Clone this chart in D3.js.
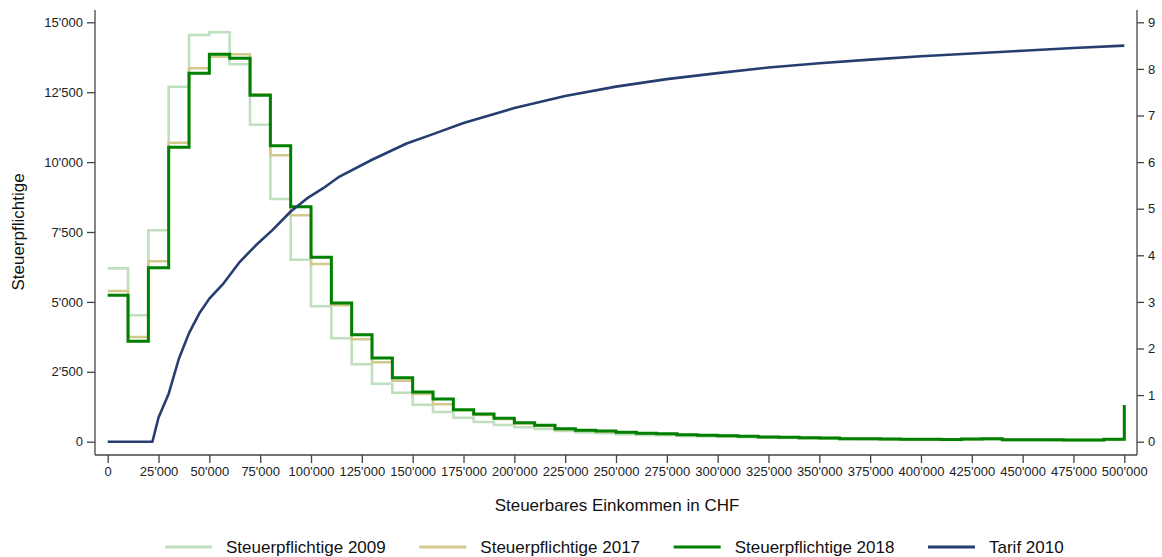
<!DOCTYPE html>
<html>
<head>
<meta charset="utf-8">
<script src="https://cdn.jsdelivr.net/npm/d3@7"></script>
<style>
  body { margin: 0; background: #fff; }
  svg { display: block; font-family: Arial, "Liberation Sans", sans-serif; }
  .axis text { fill: #222; font-size: 13px; }
  .axis path, .axis line { stroke: #444; stroke-width: 1.3px; }
</style>
</head>
<body>
<div id="chart"></div>
<script>
// income bins of 10'000 CHF, last point = open class above 500'000
const bins = d3.range(0, 510000, 10000);

const steuer2009 = [6200, 4520, 7560, 12697, 14546, 14642, 13498, 11338, 8680, 6509,
  4842, 3698, 2768, 2074, 1753, 1323, 1062, 858, 705, 597,
  515, 454, 383, 330, 300, 270, 245, 232, 205, 190,
  178, 160, 140, 130, 120, 108, 88, 86, 78, 70,
  70, 66, 78, 86, 58, 58, 55, 52, 50, 75, 1000];

const steuer2017 = [5390, 3745, 6452, 10694, 13355, 13770, 13855, 12425, 10243, 8097,
  6356, 4878, 3662, 2840, 2182, 1706, 1337, 1123, 955, 812,
  650, 562, 436, 395, 370, 325, 290, 275, 242, 222,
  208, 186, 162, 152, 138, 127, 104, 102, 93, 83,
  82, 77, 92, 102, 69, 69, 65, 62, 59, 86, 1250];

const steuer2018 = [5236, 3590, 6223, 10530, 13176, 13855, 13712, 12389, 10587, 8405,
  6595, 4961, 3827, 2994, 2289, 1778, 1527, 1145, 990, 837,
  680, 587, 465, 410, 383, 336, 300, 286, 250, 229,
  215, 193, 168, 157, 143, 132, 107, 107, 97, 86,
  86, 80, 97, 107, 72, 72, 68, 65, 62, 90, 1313];

// average tax rate (right axis)
const tarifEinkommen = [0, 10000, 20000, 22000, 25000, 30000, 35000, 40000, 45000, 50000,
  57000, 65000, 73000, 81000, 90000, 98000, 106000, 114000, 130000, 147000,
  160000, 175000, 200000, 225000, 250000, 275000, 300000, 325000, 350000, 375000,
  400000, 425000, 450000, 475000, 500000];
const tarif2010 = [0, 0, 0, 0, 0.52, 1.03, 1.78, 2.33, 2.75, 3.07,
  3.40, 3.86, 4.22, 4.54, 4.94, 5.22, 5.44, 5.69, 6.05, 6.40,
  6.60, 6.84, 7.16, 7.42, 7.62, 7.78, 7.91, 8.03, 8.12, 8.20,
  8.27, 8.33, 8.39, 8.45, 8.50];

const xTicks = d3.range(0, 500001, 25000);
const yTicks = d3.range(0, 15001, 2500);
const y2Ticks = d3.range(0, 10, 1);

const series = [
  { name: "Steuerpflichtige 2009", values: steuer2009, color: "#bfdfbf", width: 2.6 },
  { name: "Steuerpflichtige 2017", values: steuer2017, color: "#d3c98c", width: 2.6 },
  { name: "Steuerpflichtige 2018", values: steuer2018, color: "#008000", width: 3 }
];

const width = 1162, height = 557;
const svg = d3.select("#chart").append("svg")
  .attr("width", width)
  .attr("height", height);

const fmt = d3.formatLocale({ decimal: ".", thousands: "'", grouping: [3], currency: ["", ""] }).format(",");

const x = d3.scaleLinear().domain([0, 500000]).range([107.7, 1124.3]);
const y = d3.scaleLinear().domain([0, 15000]).range([441.7, 22.3]);
const y2 = d3.scaleLinear().domain([0, 9]).range([441.7, 22.3]);

// axes (no domain path, lines drawn separately like stata)
const plotLeft = 95, plotRight = 1137, plotBottom = 455, plotTop = 10;

svg.append("g")
  .attr("class", "axis")
  .attr("transform", `translate(0,${plotBottom})`)
  .call(d3.axisBottom(x).tickValues(xTicks).tickFormat(fmt).tickSize(8).tickPadding(4))
  .call(g => g.select(".domain").remove());

svg.append("g")
  .attr("class", "axis")
  .attr("transform", `translate(${plotLeft},0)`)
  .call(d3.axisLeft(y).tickValues(yTicks).tickFormat(fmt).tickSize(8).tickPadding(4))
  .call(g => g.select(".domain").remove());

svg.append("g")
  .attr("class", "axis")
  .attr("transform", `translate(${plotRight},0)`)
  .call(d3.axisRight(y2).tickValues(y2Ticks).tickFormat(d3.format("d")).tickSize(7).tickPadding(4))
  .call(g => g.select(".domain").remove());

const frame = svg.append("g").attr("stroke", "#444").attr("stroke-width", 1.3);
frame.append("line").attr("x1", plotLeft).attr("x2", plotLeft).attr("y1", plotTop).attr("y2", plotBottom);
frame.append("line").attr("x1", plotRight).attr("x2", plotRight).attr("y1", plotTop).attr("y2", plotBottom);
frame.append("line").attr("x1", plotLeft).attr("x2", plotRight).attr("y1", plotBottom).attr("y2", plotBottom);

// stairstep series
const stepLine = d3.line()
  .x((d, i) => x(bins[i]))
  .y(d => y(d))
  .curve(d3.curveStepAfter);

svg.append("g")
  .selectAll("path")
  .data(series)
  .enter().append("path")
  .attr("d", d => stepLine(d.values))
  .attr("fill", "none")
  .attr("stroke", d => d.color)
  .attr("stroke-width", d => d.width)
  .attr("stroke-linejoin", "miter");

const tarifLine = d3.line()
  .x((d, i) => x(tarifEinkommen[i]))
  .y(d => y2(d));

svg.append("path")
  .attr("d", tarifLine(tarif2010))
  .attr("fill", "none")
  .attr("stroke", "#263d70")
  .attr("stroke-width", 2.6)
  .attr("stroke-linejoin", "round");

// axis titles
svg.append("text")
  .attr("x", 617)
  .attr("y", 511)
  .attr("text-anchor", "middle")
  .attr("font-size", 17)
  .attr("fill", "#111")
  .text("Steuerbares Einkommen in CHF");

svg.append("text")
  .attr("transform", "translate(24,232) rotate(-90)")
  .attr("text-anchor", "middle")
  .attr("font-size", 17)
  .attr("fill", "#111")
  .text("Steuerpflichtige");

// legend
const legendItems = series.concat([{ name: "Tarif 2010", color: "#263d70", width: 3 }]);
const legendX = d3.scaleLinear().domain([0, 3]).range([165, 928]);

const legend = svg.append("g")
  .selectAll("g")
  .data(legendItems)
  .enter().append("g")
  .attr("transform", (d, i) => `translate(${legendX(i)},547)`);

legend.append("line")
  .attr("x1", 0).attr("x2", 47)
  .attr("stroke", d => d.color)
  .attr("stroke-width", 3);

legend.append("text")
  .attr("x", 61)
  .attr("dy", "0.35em")
  .attr("font-size", 17)
  .attr("fill", "#111")
  .text(d => d.name);
</script>
</body>
</html>
